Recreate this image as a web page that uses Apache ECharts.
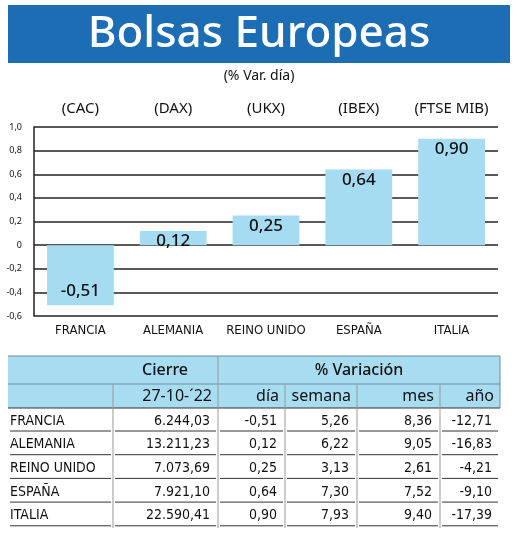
<!DOCTYPE html>
<html><head><meta charset="utf-8">
<script src="https://cdn.jsdelivr.net/npm/echarts@6/dist/echarts.min.js"></script>
<style>html,body{margin:0;padding:0;background:#fff}#c{width:520px;height:538px}</style>
</head><body><div id="c"></div>
<script>
const countries = ['FRANCIA','ALEMANIA','REINO UNIDO','ESPAÑA','ITALIA'];
const tickers = ['(CAC)','(DAX)','(UKX)','(IBEX)','(FTSE MIB)'];
const dayVar = [-0.51,0.12,0.25,0.64,0.90];
const cierre = ['6.244,03','13.211,23','7.073,69','7.921,10','22.590,41'];
const dia = ['-0,51','0,12','0,25','0,64','0,90'];
const semana = ['5,26','6,22','3,13','7,30','7,93'];
const mes = ['8,36','9,05','2,61','7,52','9,40'];
const anio = ['-12,71','-16,83','-4,21','-9,10','-17,39'];
const colHeads = ['27-10-´22','día','semana','mes','año'];

const F = '"Noto Sans", sans-serif';
const N = '"DejaVu Sans Condensed", "Liberation Sans Narrow", sans-serif';
const chart = echarts.init(document.getElementById('c'));
const g = [];
g.push({type:'rect',shape:{x:8,y:5,width:502,height:58},style:{fill:'#1c6db3'}});
g.push({type:'text',x:259,y:34,style:{text:'Bolsas Europeas',fill:'#fff',font:'500 44px '+F,align:'center',verticalAlign:'middle'}});
g.push({type:'text',x:259,y:76,style:{text:'(% Var. día)',fill:'#111',font:'14px '+F,align:'center',verticalAlign:'middle'}});
const colX = [8,113,218,285,357,440,500];
g.push({type:'rect',shape:{x:8,y:356,width:492,height:52},style:{fill:'#a8dcf0'}});
g.push({type:'line',shape:{x1:8,y1:384,x2:500,y2:384},style:{stroke:'#6b8fa0',lineWidth:1}});
g.push({type:'line',shape:{x1:8,y1:356,x2:500,y2:356},style:{stroke:'#6b8fa0',lineWidth:1}});
g.push({type:'line',shape:{x1:8,y1:408,x2:500,y2:408},style:{stroke:'#333',lineWidth:1}});
g.push({type:'line',shape:{x1:500,y1:356,x2:500,y2:408},style:{stroke:'#6b8fa0',lineWidth:1}});
g.push({type:'line',shape:{x1:218,y1:356,x2:218,y2:528},style:{stroke:'#999',lineWidth:1}});
[113,285,357,440].forEach(x=>g.push({type:'line',shape:{x1:x,y1:384,x2:x,y2:528},style:{stroke:'#999',lineWidth:1}}));
g.push({type:'text',x:165,y:370,style:{text:'Cierre',fill:'#111',font:'500 16px '+F,align:'center',verticalAlign:'middle'}});
g.push({type:'text',x:359,y:370,style:{text:'% Variación',fill:'#111',font:'500 16px '+F,align:'center',verticalAlign:'middle'}});
colHeads.forEach((t,i)=>g.push({type:'text',x:colX[i+2]-6,y:396,style:{text:t,fill:'#111',font:'16px '+F,align:'right',verticalAlign:'middle'}}));
const cols=[cierre,dia,semana,mes,anio];
countries.forEach((c,r)=>{
  const y = 421 + r*23.7;
  g.push({type:'text',x:10,y:y,style:{text:c,fill:'#111',font:'14px '+N,align:'left',verticalAlign:'middle'}});
  cols.forEach((arr,i)=>g.push({type:'text',x:colX[i+2]-8,y:y,style:{text:arr[r],fill:'#111',font:'14px '+N,align:'right',verticalAlign:'middle'}}));
  for(let i=0;i<6;i++) g.push({type:'line',shape:{x1:colX[i]+2,y1:y+10,x2:colX[i+1]-2,y2:y+10},style:{stroke:'#333',lineWidth:1}});
});

chart.setOption({
  animation:false,
  grid:{left:34,right:22,top:127,height:189},
  xAxis:[{type:'category',data:countries,position:'bottom',axisLine:{show:false},axisTick:{show:false},
    axisLabel:{interval:0,color:'#111',fontFamily:N,fontSize:13,margin:8}},
    {type:'category',data:tickers,position:'top',axisLine:{show:false},axisTick:{show:false},
    axisLabel:{interval:0,color:'#111',fontFamily:F,fontSize:15,margin:11}}],
  yAxis:{type:'value',min:-0.6,max:1.0,interval:0.2,
    axisLine:{show:true,lineStyle:{color:'#222',width:1.5}},axisTick:{show:false},
    splitLine:{lineStyle:{color:'#222',width:1.5}},
    axisLabel:{color:'#111',fontSize:9,fontFamily:F,margin:12,
      formatter:v=>{const r=Math.round(v*10)/10; return r===0?'0':r.toFixed(1).replace('.',',');}}},
  series:[{type:'bar',data:dayVar.map(v=>v<0?{value:v,label:{position:'insideBottom',distance:6}}:v),barWidth:'72%',itemStyle:{color:'#a6dcf2'},
    label:{show:true,position:'insideTop',distance:2,color:'#111',fontSize:17,fontWeight:500,fontFamily:F,
      formatter:p=>p.value.toFixed(2).replace('.',',')}},
    {type:'bar',xAxisIndex:1,data:[]}],
  graphic:g
});
</script></body></html>
